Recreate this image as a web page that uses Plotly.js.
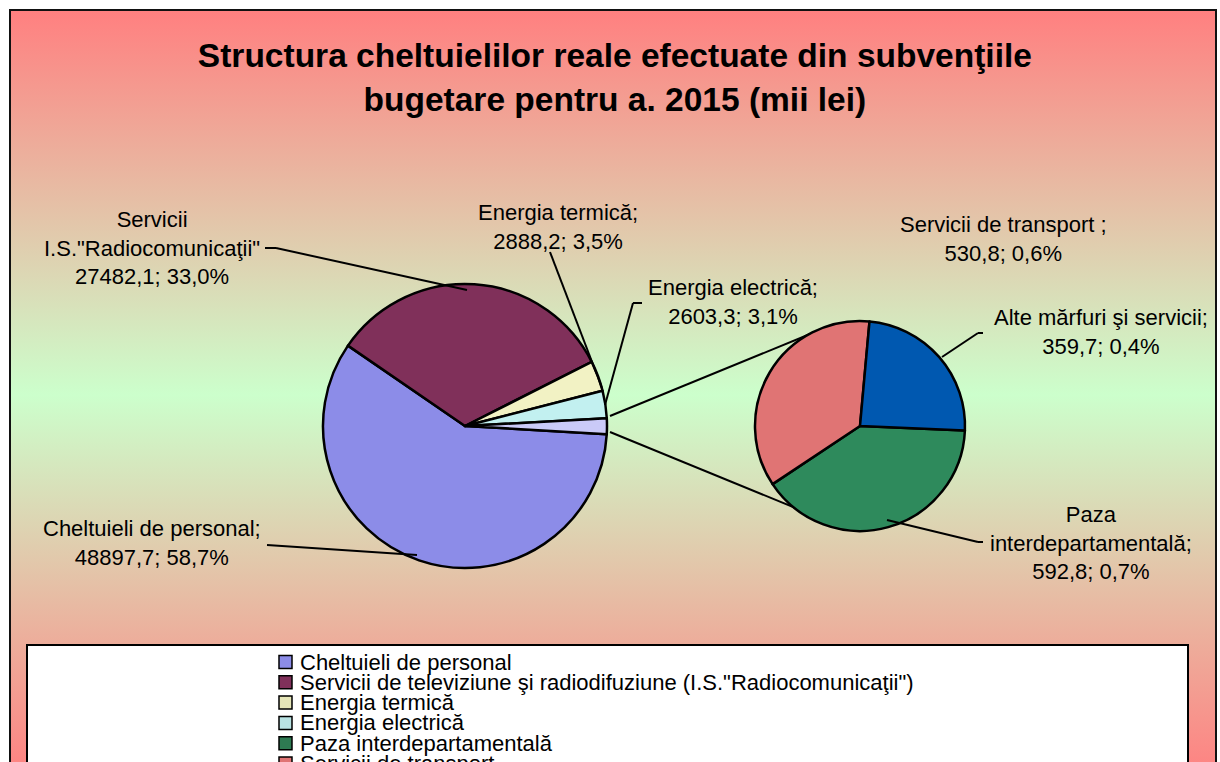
<!DOCTYPE html>
<html><head><meta charset="utf-8">
<script src="https://cdn.plot.ly/plotly-3.0.1.min.js"></script>
<style>
html,body{margin:0;padding:0;background:#fff;width:1220px;height:762px;overflow:hidden;}
#bg{position:absolute;left:9px;top:9px;width:1208px;height:772px;box-sizing:border-box;border:2px solid #111;background:linear-gradient(to bottom,#FF8080 0%,#CCFFCC 50%,#FF8080 100%);}
#chart{position:absolute;left:0;top:0;width:1220px;height:762px;}
</style></head><body>
<div id="bg"></div><div id="chart"></div>
<script>
// ---- data ----
const legendLabels = ['Cheltuieli de personal', 'Servicii de televiziune şi radiodifuziune (I.S."Radiocomunicaţii")', 'Energia termică', 'Energia electrică', 'Paza interdepartamentală', 'Servicii de transport', 'Alte mărfuri şi servicii'];
const labelNames = ['Cheltuieli de personal;', 'Servicii<br>I.S."Radiocomunicaţii"', 'Energia termică;', 'Energia electrică;', 'Paza<br>interdepartamentală;', 'Servicii de transport ;', 'Alte mărfuri şi servicii;'];
const mainValues = [48897.7, 27482.1, 2888.2, 2603.3];
const subValues = [592.8, 530.8, 359.7];
const otherLabel = 'Altele';

// ---- styles ----
const mainColors = ['#8C8CE8', '#80305A', '#F2F2C4', '#C2F0F0', '#CACAF8'];
const subColors = ['#2E8A5C', '#E07474', '#0058B0'];
const legendColors = ['#8C8CE8', '#80305A', '#E6E6B8', '#B8E2E2', '#2E7A52', '#E07474', '#0058B0'];
const FONT = 'Liberation Sans, Arial, sans-serif';
const W = 1220, H = 762;
const px = x => x / W, py = y => 1 - y / H;

const otherValue = subValues.reduce((a, b) => a + b, 0);
const allValues = mainValues.concat(subValues);
const total = allValues.reduce((a, b) => a + b, 0);
const fmt = v => v.toFixed(1).replace('.', ',');
const labelText = i => labelNames[i] + '<br>' + fmt(allValues[i]) + '; ' + fmt(allValues[i] / total * 100) + '%';

const mainTrace = {
  type: 'pie', sort: false, direction: 'clockwise', rotation: 93.3,
  labels: legendLabels.slice(0, 4).concat([otherLabel]),
  values: mainValues.concat([otherValue]),
  marker: {colors: mainColors, line: {color: '#000', width: 2.5}},
  textinfo: 'none', hoverinfo: 'label+value+percent', showlegend: false,
  domain: {x: [px(465 - 142), px(465 + 142)], y: [py(426 + 142), py(426 - 142)]}
};
const subTrace = {
  type: 'pie', sort: false, direction: 'clockwise', rotation: 92.5,
  labels: legendLabels.slice(4),
  values: subValues,
  marker: {colors: subColors, line: {color: '#000', width: 2.5}},
  textinfo: 'none', hoverinfo: 'label+value+percent', showlegend: false,
  domain: {x: [px(860 - 105), px(860 + 105)], y: [py(426 + 105), py(426 - 105)]}
};

// label positions (pixel centers) in data order
const labelPos = [[152, 543], [152, 248], [558, 227], [733, 302], [1091, 543], [1003, 239], [1101, 332]];
const annotations = labelPos.map((p, i) => ({
  xref: 'paper', yref: 'paper', x: px(p[0]), y: py(p[1]), xanchor: 'center', yanchor: 'middle',
  align: 'center', showarrow: false, text: labelText(i),
  font: {family: FONT, size: 22, color: '#000'}
}));

const seg = (x0, y0, x1, y1, layer) => ({type: 'line', xref: 'paper', yref: 'paper',
  x0: px(x0), y0: py(y0), x1: px(x1), y1: py(y1), line: {color: '#000', width: 2}, layer: layer || 'above'});
const shapes = [
  // connectors between pies (behind pies)
  seg(610, 416, 815, 332, 'below'),
  seg(610, 432, 815, 516, 'below'),
  // leader lines
  seg(265, 248, 276, 248), seg(276, 248, 467, 290),
  seg(267, 545, 417, 555),
  seg(550, 252, 602, 388),
  seg(642, 303, 633, 303), seg(633, 303, 605, 405),
  seg(983, 333, 978, 333), seg(978, 333, 942, 357),
  seg(983, 542, 978, 542), seg(978, 542, 887, 520),
  // legend box
  {type: 'rect', xref: 'paper', yref: 'paper', x0: px(27), x1: px(1188), y0: py(645), y1: py(830),
   fillcolor: '#fff', line: {color: '#000', width: 2}}
];
legendLabels.forEach((lab, i) => {
  const cy = 662 + 20.3 * i;
  if (cy > H + 10) return; // rows below the picture edge are not visible
  shapes.push({type: 'rect', xref: 'paper', yref: 'paper', x0: px(279), x1: px(292), y0: py(cy + 6.5), y1: py(cy - 6.5),
    fillcolor: legendColors[i], line: {color: '#000', width: 1.5}});
  annotations.push({xref: 'paper', yref: 'paper', x: px(299), y: py(cy), xanchor: 'left', yanchor: 'middle',
    showarrow: false, borderpad: 0, text: lab, font: {family: FONT, size: 22, color: '#000'}});
});

const layout = {
  width: W, height: H, margin: {l: 0, r: 0, t: 0, b: 0},
  paper_bgcolor: 'rgba(0,0,0,0)', plot_bgcolor: 'rgba(0,0,0,0)',
  title: {text: 'Structura cheltuielilor reale efectuate din subvenţiile<br>bugetare pentru a. 2015 (mii lei)',
    font: {family: FONT, size: 33.5, color: '#000', weight: 'bold'},
    x: 0.504, xanchor: 'center', y: 1 - 67 / H, yanchor: 'top', yref: 'container'},
  showlegend: false, annotations: annotations, shapes: shapes
};
Plotly.newPlot('chart', [mainTrace, subTrace], layout, {displayModeBar: false, staticPlot: true});
</script></body></html>
